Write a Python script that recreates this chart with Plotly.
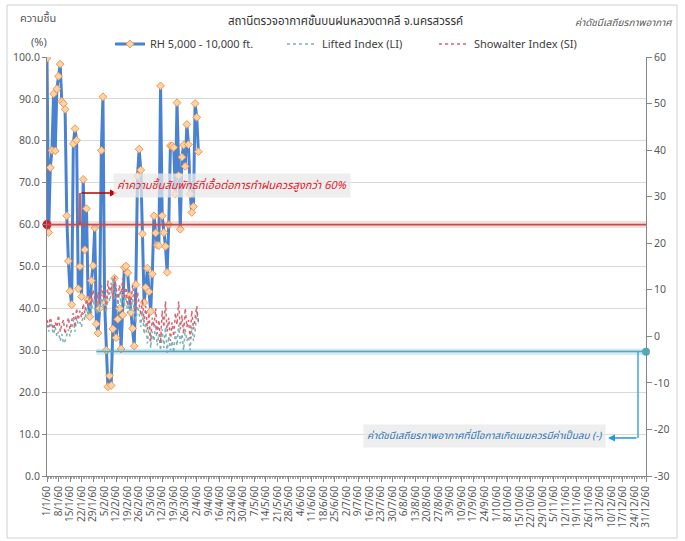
import plotly.graph_objects as go
import pandas as pd

# ---------------- data ----------------
rh = [99.7, 58.1, 73.6, 77.7, 91.2, 77.6, 92.4, 95.4, 98.3, 89.4,
      88.9, 87.5, 62.1, 51.3, 44.1, 40.9, 79.3, 82.9, 80.1, 44.7,
      50.0, 42.8, 70.8, 54.0, 63.8, 42.0, 38.0, 46.6, 50.2, 59.2,
      36.3, 34.1, 40.0, 77.7, 90.5, 41.5, 30.0, 21.3, 23.9, 21.6,
      35.1, 47.2, 33.0, 37.4, 40.0, 30.3, 38.4, 49.8, 50.1, 48.5,
      43.0, 39.0, 35.2, 31.0, 45.7, 71.6, 78.0, 73.0, 57.8, 41.4,
      45.0, 49.6, 44.0, 39.3, 48.2, 62.1, 58.0, 55.1, 55.0, 93.1,
      62.1, 58.1, 54.8, 48.6, 60.0, 78.8, 78.8, 78.4, 67.3, 89.1,
      71.7, 58.9, 76.1, 79.0, 73.9, 83.9, 79.1, 67.3, 62.9, 64.3,
      88.9, 85.6, 77.4]

li = [2.5, 1.0, 3.0, 1.5, 0.5, 2.0, 0.0, 1.0, -1.0, 0.5,
      -1.5, -1.0, 0.5, 1.5, 0.0, 2.0, 3.5, 1.0, 4.0, 2.5,
      3.0, 2.0, 5.0, 3.5, 6.0, 4.5, 7.0, 5.0, 8.0, 6.0,
      5.0, 7.5, 5.5, 9.0, 6.5, 8.0, 5.0, 10.0, 7.5, 9.0,
      12.5, 8.0, 11.0, 6.0, 9.5, 7.0, 10.0, 6.5, 8.5, 5.0,
      7.0, 5.5, 8.0, 6.0, 3.0, 6.5, 5.0, 2.0, 5.5, 0.5,
      3.0, -1.5, 2.0, -2.5, 1.0, -1.0, 2.5, -2.0, 0.5, -3.0,
      1.5, -2.5, 2.0, -3.5, 0.0, -3.0, -1.0, -3.5, 1.0, -2.0,
      2.5, -1.5, 0.5, -3.0, 1.5, -1.0, 0.0, -3.0, 2.0, -1.0,
      1.0, 5.5, 3.0]

si = [3.5, 2.0, 4.0, 2.5, 1.5, 3.0, 2.0, 4.5, 1.0, 2.5,
      3.5, 0.5, 2.0, 4.0, 1.5, 3.0, 5.0, 2.0, 6.0, 3.5,
      5.5, 4.0, 7.0, 5.0, 8.0, 6.5, 9.0, 7.0, 10.0, 8.0,
      6.5, 9.5, 7.0, 11.0, 8.5, 10.0, 6.0, 12.0, 9.0, 11.5,
      8.0, 13.0, 10.0, 7.5, 11.0, 9.0, 12.5, 8.0, 10.5, 6.5,
      9.0, 7.0, 11.0, 8.5, 5.5, 9.5, 7.0, 4.5, 8.0, 3.0,
      6.5, 1.5, 5.0, -1.0, 4.0, 2.0, 6.0, 0.5, 3.5, -1.5,
      5.5, 2.0, 7.5, 1.0, 4.0, -1.0, 3.0, 0.0, 5.0, 2.5,
      7.5, 1.5, 4.5, 0.5, 6.0, 2.0, 3.5, -0.5, 5.5, 1.5,
      4.0, 6.5, 3.0]

start_date = "2017-01-01"   # 1/1/2560 B.E.
end_date = "2017-12-31"
rh_threshold = 60
index_threshold = -3.3
index_line_start = "2017-01-31"

title_text = "สถานีตรวจอากาศชั้นบนฝนหลวงตาคลี จ.นครสวรรค์"
left_title = ["ความชื้น", "(%)"]
right_title = "ค่าดัชนีเสถียรภาพอากาศ"
names = ["RH 5,000 - 10,000 ft.", "Lifted Index (LI)", "Showalter Index (SI)"]
note_rh = "ค่าความชื้นสัมพัทธ์ที่เอื้อต่อการทำฝนควรสูงกว่า 60%"
note_idx = "ค่าดัชนีเสถียรภาพอากาศที่มีโอกาสเกิดเมฆควรมีค่าเป็นลบ (-)"

dates = pd.date_range(start_date, periods=len(rh), freq="D")

# ---------------- layout helpers ----------------
W, H = 685, 541
L, R, T, B = 47, 646, 57, 476


def px(x):
    return (x - L) / (R - L)


def py(y):
    return (B - y) / (B - T)


FONT = "Tahoma, 'Noto Sans Thai', 'Noto Sans', 'DejaVu Sans', sans-serif"
GREY = "#595959"
AX = "#868686"

fig = go.Figure()

fig.add_trace(go.Scatter(
    x=dates, y=rh, name=names[0], mode="lines+markers",
    line=dict(color="#4A82D2", width=3),
    marker=dict(symbol="diamond", size=6, color="#FBD3A8",
                line=dict(color="#F79646", width=1)),
    legend="legend"))
fig.add_trace(go.Scatter(
    x=dates, y=li, name=names[1], mode="lines", yaxis="y2",
    line=dict(color="#7FB0B2", width=1.5, dash="dot"),
    legend="legend2"))
fig.add_trace(go.Scatter(
    x=dates, y=si, name=names[2], mode="lines", yaxis="y2",
    line=dict(color="#D8626E", width=1.5, dash="dot"),
    legend="legend3"))

# threshold end dots
fig.add_trace(go.Scatter(x=[pd.Timestamp(start_date)], y=[rh_threshold], mode="markers",
                         marker=dict(color="#E3141E", size=9), showlegend=False,
                         cliponaxis=False, hoverinfo="skip"))
fig.add_trace(go.Scatter(x=[pd.Timestamp(end_date)], y=[index_threshold], yaxis="y2",
                         mode="markers", marker=dict(color="#4BACC6", size=8),
                         showlegend=False, cliponaxis=False, hoverinfo="skip"))

shapes = [
    dict(type="line", xref="x", yref="y", x0=start_date, x1=end_date,
         y0=rh_threshold, y1=rh_threshold, line=dict(color="rgba(192,80,77,0.18)", width=7),
         layer="above"),
    dict(type="line", xref="x", yref="y", x0=start_date, x1=end_date,
         y0=rh_threshold, y1=rh_threshold, line=dict(color="#C0504D", width=1.8),
         layer="above"),
    dict(type="line", xref="x", yref="y2", x0=index_line_start, x1=end_date,
         y0=index_threshold, y1=index_threshold,
         line=dict(color="rgba(75,172,198,0.25)", width=6), layer="above"),
    dict(type="line", xref="x", yref="y2", x0=index_line_start, x1=end_date,
         y0=index_threshold, y1=index_threshold,
         line=dict(color="#4BACC6", width=1.3), layer="above"),
    dict(type="line", xref="paper", yref="paper", x0=px(80), x1=px(80),
         y0=py(224), y1=py(193), line=dict(color="#C00000", width=1.3), layer="above"),
    dict(type="line", xref="paper", yref="paper", x0=px(638), x1=px(638),
         y0=py(352), y1=py(438), line=dict(color="#1F9BD7", width=1.3), layer="above"),
    dict(type="rect", xref="paper", yref="paper", x0=px(7), x1=px(677),
         y0=py(538), y1=py(5), line=dict(color="#D0D0D0", width=1), layer="below"),
]

annotations = [
    dict(xref="paper", yref="paper", x=px(117), y=py(193), ax=-37, ay=0, text="",
         showarrow=True, arrowhead=2, arrowsize=1, arrowwidth=1.4, arrowcolor="#C00000"),
    dict(xref="paper", yref="paper", x=px(608), y=py(438), ax=30, ay=0, text="",
         showarrow=True, arrowhead=2, arrowsize=1, arrowwidth=1.4, arrowcolor="#1F9BD7"),
    dict(xref="paper", yref="paper", x=px(232), y=py(186), xanchor="center", yanchor="middle",
         text="<i>" + note_rh + "</i>",
         showarrow=False, font=dict(family=FONT, size=11, color="#E0202A"),
         bgcolor="rgba(232,232,232,0.75)", borderpad=3),
    dict(xref="paper", yref="paper", x=px(484), y=py(436), xanchor="center", yanchor="middle",
         text="<i>" + note_idx + "</i>",
         showarrow=False, font=dict(family=FONT, size=10, color="#2E75B6"),
         bgcolor="rgba(232,232,232,0.75)", borderpad=3),
    dict(xref="paper", yref="paper", x=px(345), y=py(21), xanchor="center", yanchor="middle",
         text=title_text, showarrow=False,
         font=dict(family=FONT, size=11.5, color="#333333")),
    dict(xref="paper", yref="paper", x=px(38), y=py(19), xanchor="center", yanchor="middle",
         text=left_title[0], showarrow=False,
         font=dict(family=FONT, size=11, color=GREY)),
    dict(xref="paper", yref="paper", x=px(39), y=py(42), xanchor="center", yanchor="middle",
         text=left_title[1], showarrow=False,
         font=dict(family=FONT, size=11, color=GREY)),
    dict(xref="paper", yref="paper", x=px(624), y=py(23), xanchor="center", yanchor="middle",
         text="<i>" + right_title + "</i>",
         showarrow=False, font=dict(family=FONT, size=10, color=GREY)),
]

legend_common = dict(orientation="h", yanchor="middle", xanchor="left",
                     xref="container", yref="container",
                     font=dict(family=FONT, size=11, color="#404040"),
                     bgcolor="rgba(0,0,0,0)", itemwidth=30)

fig.update_layout(
    width=W, height=H,
    margin=dict(l=L, r=W - R, t=T, b=H - B, autoexpand=False),
    paper_bgcolor="white", plot_bgcolor="white",
    font=dict(family=FONT, color=GREY),
    shapes=shapes, annotations=annotations,
    legend=dict(x=110 / W, y=1 - 44 / H, **legend_common),
    legend2=dict(x=282 / W, y=1 - 44 / H, **legend_common),
    legend3=dict(x=434 / W, y=1 - 44 / H, **legend_common),
    xaxis=dict(type="date", range=[start_date, end_date + " 00:00:01"],
               tick0=start_date, dtick=7 * 86400000, tickformat="%-d/%-m/60",
               tickangle=-90, ticks="outside", ticklen=5, tickcolor=AX,
               showline=True, linecolor=AX, showgrid=False, zeroline=False,
               automargin=False,
               tickfont=dict(family=FONT, size=10, color=GREY),
               minor=dict(dtick=86400000, ticks="outside", ticklen=2, tickcolor="#A6A6A6",
                          showgrid=False)),
    yaxis=dict(range=[0, 100], dtick=10, tickformat=".1f", showgrid=True,
               gridcolor="#D9D9D9", showline=True, linecolor=AX, ticks="outside",
               ticklen=4, tickcolor=AX, zeroline=False, automargin=False,
               tickfont=dict(family=FONT, size=10.5, color=GREY)),
    yaxis2=dict(range=[-30, 60], dtick=10, overlaying="y", side="right", showgrid=False,
                showline=True, linecolor=AX, ticks="outside", ticklen=5, tickcolor=AX,
                zeroline=False, automargin=False,
                tickfont=dict(family=FONT, size=10.5, color=GREY)),
)

fig.write_html("out.html", config={"displayModeBar": False},
               post_script="document.body.style.margin='0';")
